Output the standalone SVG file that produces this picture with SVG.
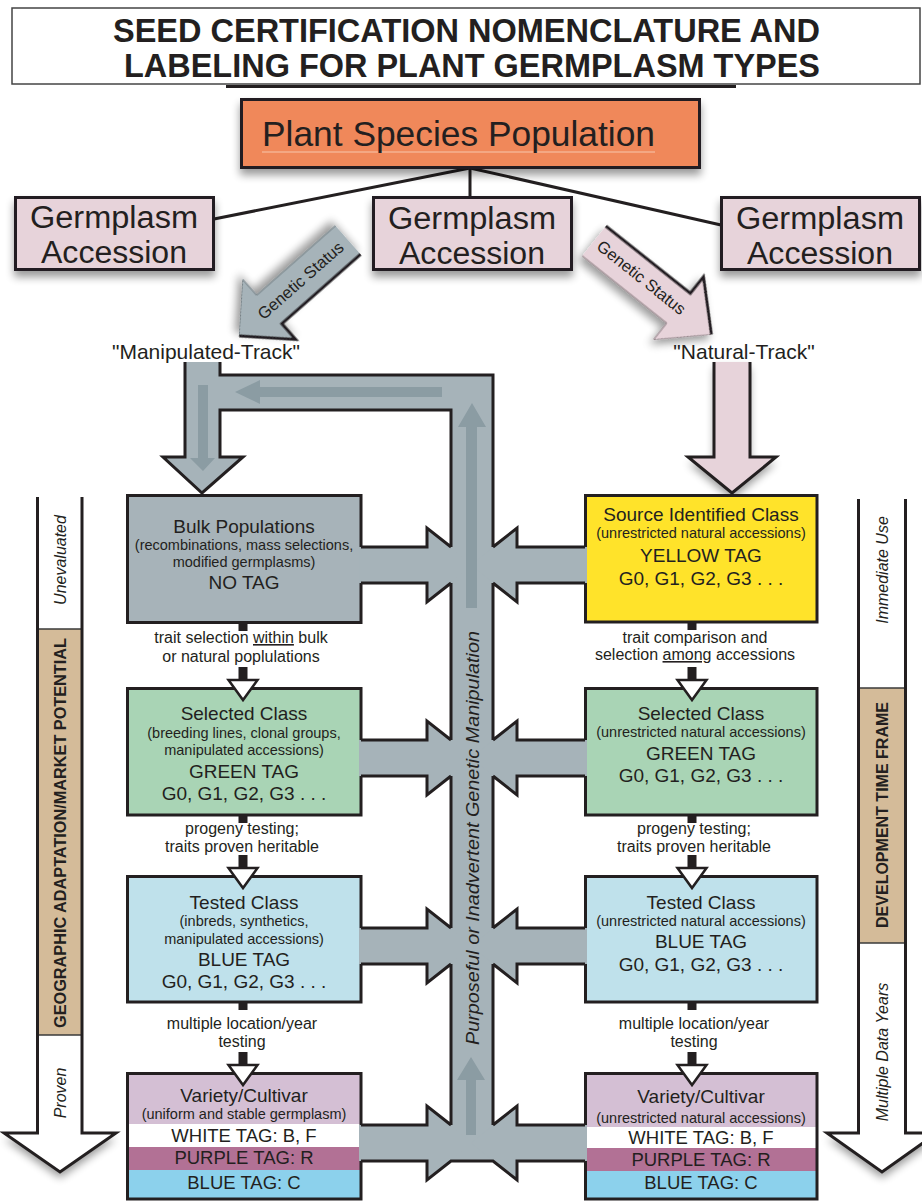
<svg xmlns="http://www.w3.org/2000/svg" width="922" height="1201" viewBox="0 0 922 1201">
<defs>
<filter id="sh" x="-30%" y="-30%" width="160%" height="180%">
<feGaussianBlur in="SourceAlpha" stdDeviation="4"/>
<feOffset dx="0" dy="6" result="o"/>
<feComponentTransfer><feFuncA type="linear" slope="0.4"/></feComponentTransfer>
<feMerge><feMergeNode/><feMergeNode in="SourceGraphic"/></feMerge>
</filter>
<style>
text { font-family: "Liberation Sans", Arial, sans-serif; fill: #231F20; }
.box { stroke: #231F20; stroke-width: 3; }
.ttl { font-size: 19px; text-anchor: middle; }
.par { font-size: 14.5px; text-anchor: middle; }
.tag { font-size: 19px; text-anchor: middle; }
.lbl { font-size: 16px; text-anchor: middle; }
.band { font-size: 18.5px; text-anchor: middle; }
.ga { font-size: 31px; text-anchor: middle; }
.pb { stroke: #231F20; stroke-width: 3; fill: none; }
.pf { fill: #A6B3B9; }
.inner { fill: #8B9CA3; }
.bar { fill: #231F20; }
.tri { fill: #fff; stroke: #231F20; stroke-width: 2.5; }
.side { font-size: 16px; text-anchor: middle; font-style: italic; }
.sideb { font-size: 16px; text-anchor: middle; font-weight: bold; }
.gs { font-size: 16.5px; text-anchor: middle; }
.u { text-decoration: underline; }
</style>
</defs>
<rect x="0" y="0" width="922" height="1201" fill="#fff"/>

<g id="title">
<rect x="12" y="8" width="908" height="76" fill="#fff" stroke="#444" stroke-width="1.5"/>
<line x1="226" y1="86.5" x2="736" y2="86.5" stroke="#231F20" stroke-width="3"/>
<text x="466.5" y="42" font-size="34" font-weight="bold" text-anchor="middle" textLength="707" lengthAdjust="spacingAndGlyphs">SEED CERTIFICATION NOMENCLATURE AND</text>
<text x="472" y="77" font-size="34" font-weight="bold" text-anchor="middle" textLength="696" lengthAdjust="spacingAndGlyphs">LABELING FOR PLANT GERMPLASM TYPES</text>
</g>

<g id="connectors">
<g id="tree-lines" stroke="#231F20" stroke-width="3">
<line x1="470" y1="168" x2="470" y2="198"/>
<line x1="470" y1="168" x2="214" y2="219"/>
<line x1="470" y1="168" x2="721" y2="225"/>
</g>
</g>

<g id="plant-species-population">
<rect x="241.5" y="99.5" width="458" height="68" fill="#F0885A" class="box" filter="url(#sh)"/>
<line x1="262" y1="152" x2="655" y2="152" stroke="#F7C6AC" stroke-width="1"/>
<text x="262" y="146" font-size="35" textLength="393" lengthAdjust="spacingAndGlyphs">Plant Species Population</text>
</g>

<g id="germplasm-left">
<rect x="15.5" y="197.5" width="198" height="72" fill="#E7D3DA" class="box" filter="url(#sh)"/>
<text class="ga" x="114" y="228" textLength="168" lengthAdjust="spacingAndGlyphs">Germplasm</text>
<text class="ga" x="114" y="263" textLength="146" lengthAdjust="spacingAndGlyphs">Accession</text>
</g>
<g id="germplasm-center">
<rect x="373.5" y="197.5" width="198" height="72" fill="#E7D3DA" class="box" filter="url(#sh)"/>
<text class="ga" x="472" y="229" textLength="168" lengthAdjust="spacingAndGlyphs">Germplasm</text>
<text class="ga" x="472" y="264" textLength="146" lengthAdjust="spacingAndGlyphs">Accession</text>
</g>
<g id="germplasm-right">
<rect x="721.5" y="197.5" width="198" height="72" fill="#E7D3DA" class="box" filter="url(#sh)"/>
<text class="ga" x="820" y="229" textLength="168" lengthAdjust="spacingAndGlyphs">Germplasm</text>
<text class="ga" x="820" y="264" textLength="146" lengthAdjust="spacingAndGlyphs">Accession</text>
</g>

<g id="genetic-status-left">
<g transform="translate(348,240) rotate(138.6)" filter="url(#sh)">
<polygon points="0,-19 105,-19 105,-40 145,0 105,40 105,19 0,19" fill="#A6B3B9"/>
<path d="M145,0 L105,40 V19 H0" fill="none" stroke="#6f7a80" stroke-width="1"/>
<path d="M0,-19 H105 V-40 L145,0" fill="none" stroke="#231F20" stroke-width="3"/>
</g>
<text class="gs" transform="translate(301,281) rotate(-41.4)" y="5">Genetic Status</text>
</g>
<g id="genetic-status-right">
<g transform="translate(594,241) rotate(38.5)" filter="url(#sh)">
<polygon points="0,-19 108,-19 108,-40 150,0 108,40 108,19 0,19" fill="#E7D3DA"/>
<path d="M150,0 L108,40 V19 H0" fill="none" stroke="#8a7a80" stroke-width="1"/>
<path d="M0,-19 H108 V-40 L150,0" fill="none" stroke="#231F20" stroke-width="3"/>
</g>
<text class="gs" transform="translate(641,278) rotate(38.5)" y="5">Genetic Status</text>
</g>

<g id="track-labels">
<text x="206" y="359" font-size="21" text-anchor="middle">"Manipulated-Track"</text>
<text x="744" y="359" font-size="21" text-anchor="middle">"Natural-Track"</text>
</g>

<g id="geo-bar">
<rect x="37" y="497" width="45" height="636" fill="#fff"/>
<rect x="37" y="629" width="45" height="406" fill="#D4BB99"/>
<line x1="37" y1="629" x2="82" y2="629" stroke="#3a3a3a" stroke-width="1.5"/>
<line x1="37" y1="1035" x2="82" y2="1035" stroke="#3a3a3a" stroke-width="1.5"/>
<polygon points="4,1133 116,1133 60,1172" fill="#fff" filter="url(#sh)"/>
<rect x="38" y="1120" width="43" height="16" fill="#fff"/>
<path d="M37.5,497 V1133 H4 L60,1172 L116,1133 H82 V497" class="pb"/>
<text class="side" transform="translate(65.5,560) rotate(-90)">Unevaluated</text>
<text class="sideb" transform="translate(66,833) rotate(-90)" textLength="390" lengthAdjust="spacingAndGlyphs">GEOGRAPHIC ADAPTATION/MARKET POTENTIAL</text>
<text class="side" transform="translate(65.5,1093) rotate(-90)">Proven</text>
</g>

<g id="time-bar">
<rect x="858" y="499" width="48" height="634" fill="#fff"/>
<rect x="858" y="688" width="48" height="255" fill="#D4BB99"/>
<line x1="858" y1="688" x2="906" y2="688" stroke="#3a3a3a" stroke-width="1.5"/>
<line x1="858" y1="943" x2="906" y2="943" stroke="#3a3a3a" stroke-width="1.5"/>
<polygon points="827,1133 937,1133 882,1172" fill="#fff" filter="url(#sh)"/>
<rect x="859" y="1120" width="46" height="16" fill="#fff"/>
<path d="M858.5,499 V1133 H827 L882,1172 L937,1133 H905.5 V499" class="pb"/>
<text class="side" transform="translate(888,570) rotate(-90)">Immediate Use</text>
<text class="sideb" transform="translate(888,815) rotate(-90)" textLength="226" lengthAdjust="spacingAndGlyphs">DEVELOPMENT TIME FRAME</text>
<text class="side" transform="translate(888,1052) rotate(-90)">Multiple Data Years</text>
</g>

<g id="natural-track-arrow">
<polygon points="714,362 750,362 750,457 776,457 732,493 688,457 714,457" fill="#E7D3DA" filter="url(#sh)"/>
<path d="M714,362 V457 H688 L732,493 L776,457 H750 V362" class="pb"/>
</g>

<g id="bulk-populations">
<rect x="127.5" y="495.5" width="233.5" height="127" fill="#A7B3B9" class="box"/>
<text class="ttl" x="244" y="533">Bulk Populations</text>
<text class="par" x="244" y="550">(recombinations, mass selections,</text>
<text class="par" x="244" y="567">modified germplasms)</text>
<text class="tag" x="244" y="589">NO TAG</text>
</g>
<g id="selected-class-manipulated">
<rect x="127.5" y="688.5" width="233.5" height="126.5" fill="#A9D4B5" class="box"/>
<text class="ttl" x="244" y="720">Selected Class</text>
<text class="par" x="244" y="738">(breeding lines, clonal groups,</text>
<text class="par" x="244" y="755">manipulated accessions)</text>
<text class="tag" x="244" y="778">GREEN TAG</text>
<text class="tag" x="244" y="800">G0, G1, G2, G3 . . .</text>
</g>
<g id="tested-class-manipulated">
<rect x="127.5" y="876.5" width="233.5" height="125.5" fill="#BFE1EB" class="box"/>
<text class="ttl" x="244" y="909">Tested Class</text>
<text class="par" x="244" y="926">(inbreds, synthetics,</text>
<text class="par" x="244" y="944">manipulated accessions)</text>
<text class="tag" x="244" y="966">BLUE TAG</text>
<text class="tag" x="244" y="988">G0, G1, G2, G3 . . .</text>
</g>
<g id="variety-manipulated">
<rect x="127.5" y="1073.5" width="233.5" height="51" fill="#D4BFD4"/>
<rect x="127.5" y="1124" width="233.5" height="23" fill="#fff"/>
<rect x="127.5" y="1147" width="233.5" height="23" fill="#B27195"/>
<rect x="127.5" y="1170" width="233.5" height="29" fill="#8CD1EC"/>
<rect x="127.5" y="1073.5" width="233.5" height="125.5" fill="none" class="box"/>
<text class="ttl" x="244" y="1102">Variety/Cultivar</text>
<text class="par" x="244" y="1119">(uniform and stable germplasm)</text>
<text class="band" x="244" y="1142">WHITE TAG: B, F</text>
<text class="band" x="244" y="1164">PURPLE TAG: R</text>
<text class="band" x="244" y="1189">BLUE TAG: C</text>
</g>

<g id="source-identified-class">
<rect x="585.5" y="495.5" width="231.5" height="126.5" fill="#FFE32A" class="box"/>
<text class="ttl" x="701" y="521">Source Identified Class</text>
<text class="par" x="701" y="538">(unrestricted natural accessions)</text>
<text class="tag" x="701" y="562">YELLOW TAG</text>
<text class="tag" x="701" y="585">G0, G1, G2, G3 . . .</text>
</g>
<g id="selected-class-natural">
<rect x="585.5" y="688.5" width="231.5" height="126.5" fill="#A9D4B5" class="box"/>
<text class="ttl" x="701" y="720">Selected Class</text>
<text class="par" x="701" y="737">(unrestricted natural accessions)</text>
<text class="tag" x="701" y="760">GREEN TAG</text>
<text class="tag" x="701" y="782">G0, G1, G2, G3 . . .</text>
</g>
<g id="tested-class-natural">
<rect x="585.5" y="876.5" width="231.5" height="125.5" fill="#BFE1EB" class="box"/>
<text class="ttl" x="701" y="909">Tested Class</text>
<text class="par" x="701" y="926">(unrestricted natural accessions)</text>
<text class="tag" x="701" y="948">BLUE TAG</text>
<text class="tag" x="701" y="971">G0, G1, G2, G3 . . .</text>
</g>
<g id="variety-natural">
<rect x="585.5" y="1073.5" width="231.5" height="54" fill="#D4BFD4"/>
<rect x="585.5" y="1127" width="231.5" height="21" fill="#fff"/>
<rect x="585.5" y="1148" width="231.5" height="23" fill="#B27195"/>
<rect x="585.5" y="1171" width="231.5" height="28" fill="#8CD1EC"/>
<rect x="585.5" y="1073.5" width="231.5" height="125.5" fill="none" class="box"/>
<text class="ttl" x="701" y="1103">Variety/Cultivar</text>
<text class="par" x="701" y="1123">(unrestricted natural accessions)</text>
<text class="band" x="701" y="1144">WHITE TAG: B, F</text>
<text class="band" x="701" y="1166">PURPLE TAG: R</text>
<text class="band" x="701" y="1189">BLUE TAG: C</text>
</g>

<g id="pipes">
<g class="pf">
<rect x="185" y="362" width="35" height="96"/>
<polygon points="163,457 243,457 202,493"/>
<rect x="185" y="375" width="308" height="35"/>
<rect x="451" y="375" width="42" height="786"/>
<rect x="359" y="547" width="70" height="36"/><polygon points="427,528 473,565 427,602"/>
<rect x="515" y="547" width="72" height="36"/><polygon points="517,528 471,565 517,602"/>
<rect x="359" y="740" width="70" height="36"/><polygon points="427,721 473,758 427,795"/>
<rect x="515" y="740" width="72" height="36"/><polygon points="517,721 471,758 517,795"/>
<rect x="359" y="928" width="70" height="36"/><polygon points="427,909 473,946 427,983"/>
<rect x="515" y="928" width="72" height="36"/><polygon points="517,909 471,946 517,983"/>
<rect x="359" y="1125" width="70" height="36"/><polygon points="427,1106 473,1143 427,1180"/>
<rect x="515" y="1125" width="72" height="36"/><polygon points="517,1106 471,1143 517,1180"/>
</g>
<path class="pb" d="M185,362 V457 H163 L202,493 L243,457 H220 V410 H451 V547 M220,362 V375 H493 V547
M451,583 V740 M451,776 V928 M451,964 V1125
M493,583 V740 M493,776 V928 M493,964 V1125
M361,547 H427 V528 L451,547 M361,583 H427 V602 L451,583
M585,547 H517 V528 L493,547 M585,583 H517 V602 L493,583
M361,740 H427 V721 L451,740 M361,776 H427 V795 L451,776
M585,740 H517 V721 L493,740 M585,776 H517 V795 L493,776
M361,928 H427 V909 L451,928 M361,964 H427 V983 L451,964
M585,928 H517 V909 L493,928 M585,964 H517 V983 L493,964
M361,1125 H427 V1106 L451,1125 M585,1125 H517 V1106 L493,1125
M361,1161 H427 V1180 L451,1161 H493 L517,1180 V1161 H585"/>
<g class="inner">
<path d="M198,385 H208 V458 H215 L203,471 L190,458 H198 Z"/>
<path d="M442,387 V397 H260 V404 L235,392 L260,380 V387 Z"/>
<path d="M466,608 V427 H458 L472,403 L486,427 H477 V608 Z"/>
<path d="M466,1135 V1080 H457 L471,1057 L485,1080 H476 V1135 Z"/>
</g>
<text transform="translate(478.5,838) rotate(-90)" font-size="18" font-style="italic" text-anchor="middle" textLength="414" lengthAdjust="spacingAndGlyphs">Purposeful or Inadvertent Genetic Manipulation</text>
</g>

<g id="step-connectors">
<rect class="bar" x="238.5" y="623" width="9" height="8"/>
<rect class="bar" x="238.5" y="667" width="9" height="14"/>
<polygon class="tri" points="228.5,680 257.5,680 243,700"/>
<rect class="bar" x="687.5" y="622" width="9" height="8"/>
<rect class="bar" x="687.5" y="667" width="9" height="14"/>
<polygon class="tri" points="677.5,680 706.5,680 692,700"/>

<rect class="bar" x="238.5" y="815" width="9" height="8"/>
<rect class="bar" x="238.5" y="855" width="9" height="14"/>
<polygon class="tri" points="228.5,868 257.5,868 243,888"/>
<rect class="bar" x="687.5" y="815" width="9" height="8"/>
<rect class="bar" x="687.5" y="855" width="9" height="14"/>
<polygon class="tri" points="677.5,868 706.5,868 692,888"/>

<rect class="bar" x="238.5" y="1002" width="9" height="8"/>
<rect class="bar" x="238.5" y="1052" width="9" height="14"/>
<polygon class="tri" points="228.5,1065 257.5,1065 243,1085"/>
<rect class="bar" x="687.5" y="1002" width="9" height="8"/>
<rect class="bar" x="687.5" y="1052" width="9" height="14"/>
<polygon class="tri" points="677.5,1065 706.5,1065 692,1085"/>
</g>

<g id="step-labels">
<text class="lbl" x="241" y="643">trait selection <tspan class="u">within</tspan> bulk</text>
<text class="lbl" x="241" y="662">or natural poplulations</text>
<text class="lbl" x="695" y="643">trait comparison and</text>
<text class="lbl" x="695" y="660">selection <tspan class="u">among</tspan> accessions</text>
<text class="lbl" x="242" y="834">progeny testing;</text>
<text class="lbl" x="242" y="852">traits proven heritable</text>
<text class="lbl" x="694" y="834">progeny testing;</text>
<text class="lbl" x="694" y="852">traits proven heritable</text>
<text class="lbl" x="242" y="1029">multiple location/year</text>
<text class="lbl" x="242" y="1047">testing</text>
<text class="lbl" x="694" y="1029">multiple location/year</text>
<text class="lbl" x="694" y="1047">testing</text>
</g>
</svg>
